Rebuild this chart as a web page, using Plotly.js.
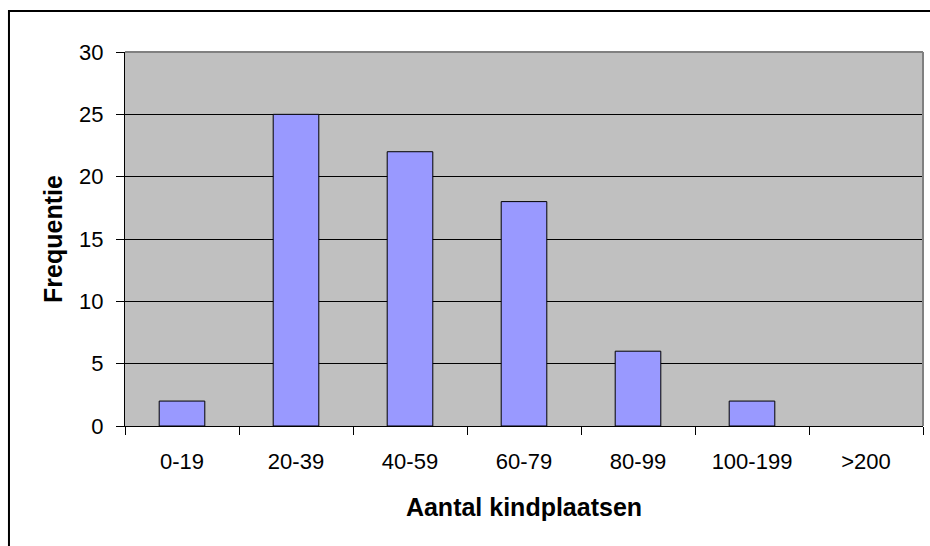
<!DOCTYPE html>
<html>
<head>
<meta charset="utf-8">
<script src="https://cdn.plot.ly/plotly-3.0.1.min.js"></script>
<style>html,body{margin:0;padding:0;background:#fff;}#chart{width:930px;height:546px;}</style>
</head>
<body>
<div id="chart"></div>
<script>
const categories = ["0-19", "20-39", "40-59", "60-79", "80-99", "100-199", ">200"];
const frequencies = [2, 25, 22, 18, 6, 2, 0];
const yTicks = [0, 5, 10, 15, 20, 25, 30];
const xTitle = "Aantal kindplaatsen";
const yTitle = "Frequentie";

const FONT = "Liberation Sans, Arial, sans-serif";

const trace = {
  type: "bar",
  x: categories,
  y: frequencies,
  width: 0.4,
  marker: {color: "#9999FF", line: {color: "#000000", width: frequencies.map(v => v > 0 ? 1 : 0)}},
  hoverinfo: "x+y"
};

const layout = {
  width: 930, height: 546,
  margin: {l: 125, r: 7, t: 52, b: 120, pad: 0},
  paper_bgcolor: "#FFFFFF",
  plot_bgcolor: "#C0C0C0",
  showlegend: false,
  bargap: 0.6,
  font: {family: FONT, color: "#000000"},
  xaxis: {
    type: "category",
    range: [-0.5, 6.5],
    showline: true, linecolor: "#000000", linewidth: 1,
    ticks: "outside", ticklen: 8, tickcolor: "#000000", tickwidth: 1,
    tickson: "boundaries",
    showgrid: false,
    tickfont: {family: FONT, size: 22, color: "#000000"},
    ticklabelstandoff: 16,
    title: {text: xTitle, font: {family: FONT, size: 25, color: "#000000", weight: "bold"}, standoff: 25},
    fixedrange: true
  },
  yaxis: {
    range: [0, 30],
    tickvals: yTicks,
    ticktext: yTicks.map(String),
    showline: true, linecolor: "#000000", linewidth: 1,
    ticks: "outside", ticklen: 8, tickcolor: "#000000", tickwidth: 1,
    showgrid: true, gridcolor: "#000000", gridwidth: 1,
    zeroline: false,
    tickfont: {family: FONT, size: 22, color: "#000000"},
    ticklabelstandoff: 8,
    title: {text: yTitle, font: {family: FONT, size: 25, color: "#000000", weight: "bold"}, standoff: 9},
    fixedrange: true
  },
  shapes: [
    {type: "line", xref: "paper", yref: "paper", x0: 0, x1: 1, y0: 1, y1: 1, line: {color: "#808080", width: 2}, layer: "above"},
    {type: "line", xref: "paper", yref: "paper", x0: 1, x1: 1, y0: 0, y1: 1, line: {color: "#808080", width: 2}, layer: "above"},
    {type: "rect", xref: "paper", yref: "paper", x0: -0.1454, x1: 1.015, y0: -0.3316, y1: 1.1096, line: {color: "#000000", width: 2}, fillcolor: "rgba(0,0,0,0)", layer: "above"}
  ]
};

Plotly.newPlot("chart", [trace], layout, {displayModeBar: false, staticPlot: true});
</script>
</body>
</html>
